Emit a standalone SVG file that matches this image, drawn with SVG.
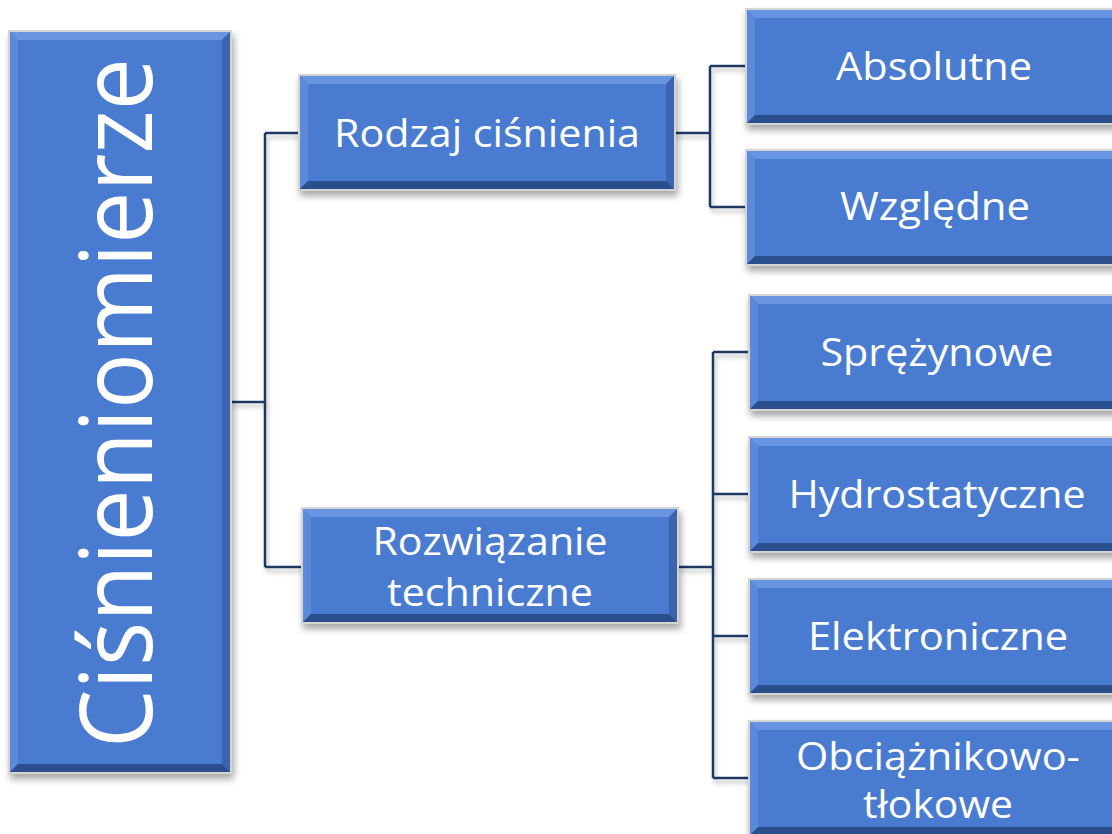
<svg xmlns="http://www.w3.org/2000/svg" xmlns:xlink="http://www.w3.org/1999/xlink" width="1112" height="834" viewBox="0 0 1112 834">
<defs>
<filter id="sh" x="-10%" y="-10%" width="125%" height="130%">
<feDropShadow dx="2" dy="5" stdDeviation="3.5" flood-color="#000" flood-opacity="0.35"/>
</filter>
<filter id="lsh" x="-10%" y="-10%" width="130%" height="130%">
<feDropShadow dx="2" dy="4" stdDeviation="2" flood-color="#000" flood-opacity="0.25"/>
</filter>
<g id="box">
<rect x="-1" y="-1" width="376" height="115" fill="none" stroke="#d4d4d4" stroke-width="2"/>
<rect x="0" y="0" width="374" height="113" fill="#4A7CD0"/>
<polygon points="0,0 374,0 366,8 8,8" fill="#6894E2"/>
<polygon points="0,0 8,8 8,105 0,113" fill="#5C8ADA"/>
<polygon points="374,0 374,113 366,105 366,8" fill="#3A63AE"/>
<polygon points="0,113 374,113 366,105 8,105" fill="#2C4F8C"/>
</g>
</defs>
<style>
.lbl{font-family:"Open Sans","Liberation Sans",Arial,sans-serif;fill:#ffffff;font-size:38px;text-anchor:middle}
.con{fill:none;stroke:#1F3864;stroke-width:2.5}
</style>
<rect width="1112" height="834" fill="#ffffff"/>
<g id="connectors" filter="url(#lsh)">
<path class="con" d="M230,402 H265 M265,133 V567 M265,133 H300 M265,567 H303"/>
<path class="con" d="M674,133 H710 M710,66 V207 M710,66 H747 M710,207 H747"/>
<path class="con" d="M678,567 H713 M713,352 V778 M713,352 H750 M713,494 H750 M713,636 H750 M713,778 H750"/>
</g>
<g id="root" filter="url(#sh)">
<rect x="9" y="31" width="222" height="742" fill="none" stroke="#d4d4d4" stroke-width="2"/>
<rect x="10" y="32" width="220" height="740" fill="#4A7CD0"/>
<polygon points="10,32 230,32 222,40 18,40" fill="#6894E2"/>
<polygon points="10,32 18,40 18,764 10,772" fill="#5C8ADA"/>
<polygon points="230,32 230,772 222,764 222,40" fill="#3A63AE"/>
<polygon points="10,772 230,772 222,764 18,764" fill="#2C4F8C"/>
<text class="lbl" transform="translate(152,403) rotate(-90)" style="font-size:100px" textLength="690" lengthAdjust="spacingAndGlyphs">Ciśnieniomierze</text>
</g>
<g id="rodzaj">
<use xlink:href="#box" x="300" y="76" filter="url(#sh)"/>
<text class="lbl" x="487" y="147" textLength="306" lengthAdjust="spacingAndGlyphs">Rodzaj ciśnienia</text>
</g>
<g id="rozwiazanie">
<use xlink:href="#box" x="303" y="509" filter="url(#sh)"/>
<text class="lbl" x="490" y="555" textLength="235" lengthAdjust="spacingAndGlyphs">Rozwiązanie</text>
<text class="lbl" x="490" y="606" textLength="206" lengthAdjust="spacingAndGlyphs">techniczne</text>
</g>
<g id="absolutne">
<use xlink:href="#box" x="747" y="10" filter="url(#sh)"/>
<text class="lbl" x="934" y="80" textLength="196" lengthAdjust="spacingAndGlyphs">Absolutne</text>
</g>
<g id="wzgledne">
<use xlink:href="#box" x="747" y="151" filter="url(#sh)"/>
<text class="lbl" x="935" y="220" textLength="190" lengthAdjust="spacingAndGlyphs">Względne</text>
</g>
<g id="sprezynowe">
<use xlink:href="#box" x="750" y="296" filter="url(#sh)"/>
<text class="lbl" x="937" y="366" textLength="233" lengthAdjust="spacingAndGlyphs">Sprężynowe</text>
</g>
<g id="hydrostatyczne">
<use xlink:href="#box" x="750" y="438" filter="url(#sh)"/>
<text class="lbl" x="937" y="508" textLength="297" lengthAdjust="spacingAndGlyphs">Hydrostatyczne</text>
</g>
<g id="elektroniczne">
<use xlink:href="#box" x="750" y="580" filter="url(#sh)"/>
<text class="lbl" x="938" y="650" textLength="260" lengthAdjust="spacingAndGlyphs">Elektroniczne</text>
</g>
<g id="obciaznikowo">
<use xlink:href="#box" x="750" y="722" filter="url(#sh)"/>
<text class="lbl" x="938" y="770" textLength="284" lengthAdjust="spacingAndGlyphs">Obciążnikowo-</text>
<text class="lbl" x="938" y="818" textLength="150" lengthAdjust="spacingAndGlyphs">tłokowe</text>
</g>
</svg>
